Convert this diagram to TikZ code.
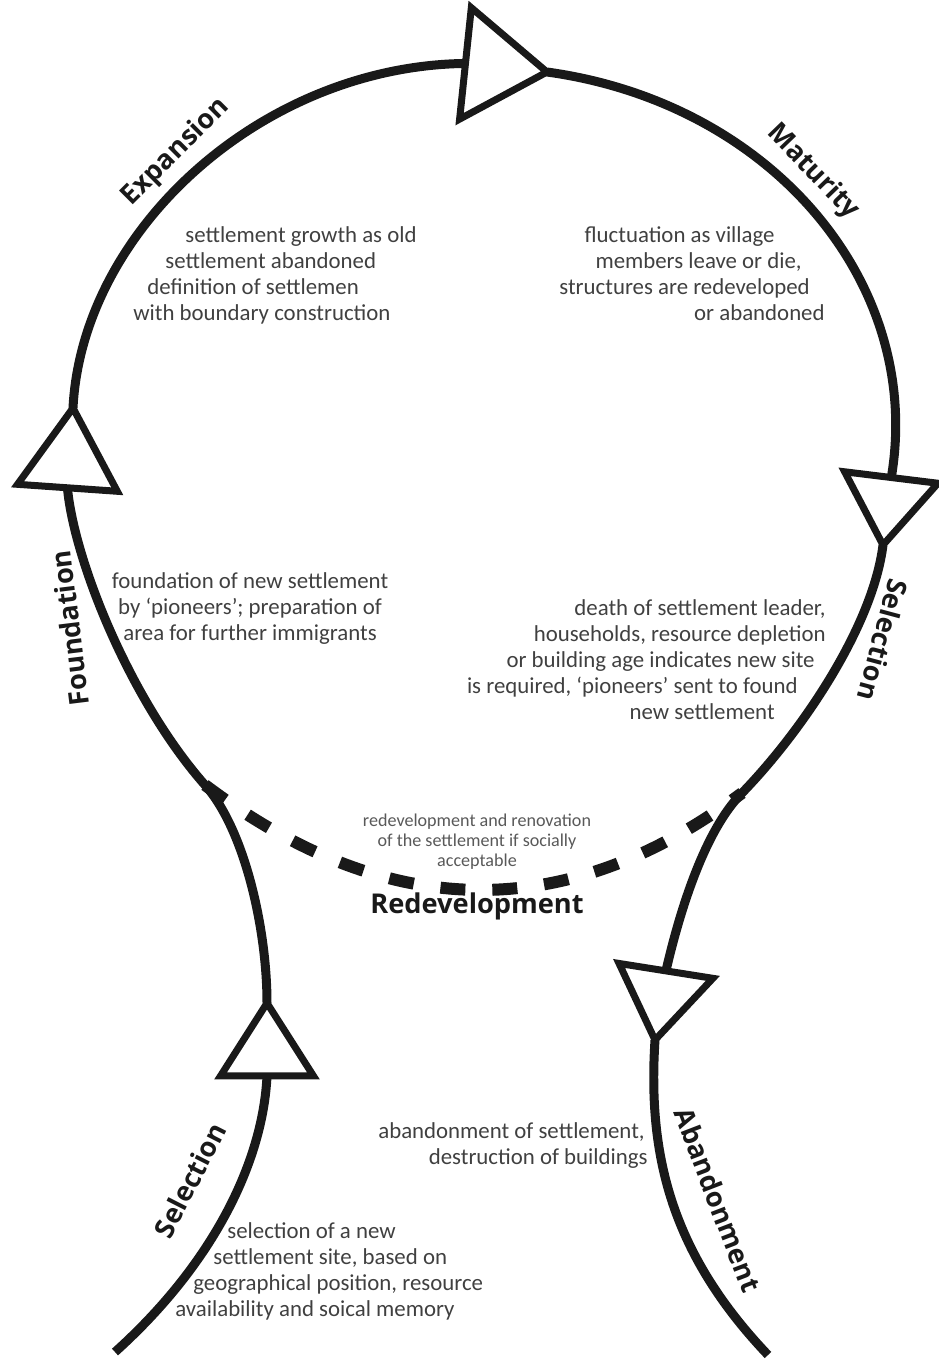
\documentclass[tikz,border=0pt]{standalone}
\usepackage{fontspec}
\setmainfont{Carlito}
\newfontfamily\labelfont{Open Sans}
\usetikzlibrary{shapes.geometric}

\begin{document}
\begin{tikzpicture}[x=0.02cm, y=-0.02cm,
      loopline/.style={line width=0.18cm, draw=black!90},
      tri/.style={isosceles triangle, isosceles triangle stretches, draw=black!90,
        fill=white, line width=0.14cm, inner sep=0pt, outer sep=0pt, anchor=apex},
      phase/.style={font=\labelfont\bfseries\fontsize{15.5}{18}\selectfont,
        text=black!90, inner sep=0pt},
      note/.style={font=\fontsize{13}{14.8}\selectfont, text=black!75, inner sep=0pt},
      redev/.style={line width=0.24cm, draw=black!90, dash pattern=on 0.5cm off 0.54cm}]
      \useasboundingbox (0,0) rectangle (938,1359);
      % arrowheads t_1 ... t_5
      \node[tri, minimum width=1.86cm, minimum height=1.46cm, rotate=90] (t_1) at (267,1003) {};
      \node[tri, minimum width=2cm, minimum height=1.6cm, rotate=86] (t_2) at (73,408) {};
      \node[tri, minimum width=2.24cm, minimum height=1.64cm, rotate=-6] (t_3) at (547,72) {};
      \node[tri, minimum width=1.88cm, minimum height=1.36cm, rotate=-97] (t_4) at (883,545) {};
      \node[tri, minimum width=1.9cm, minimum height=1.4cm, rotate=-99] (t_5) at (655,1040) {};
      \coordinate (lj) at (205,785);
      \coordinate (rj) at (742,793);
      \coordinate (s_in) at (115,1352);
      \coordinate (s_out) at (768,1355);
      % the cycle
      \draw[loopline] (s_in) .. controls (215,1262) and (263,1160) .. (t_1.lower side);
      \draw[loopline] (t_1.apex) .. controls (267,930) and (245,830) .. (lj)
            .. controls (130,700) and (74,560) .. (t_2.lower side);
      \draw[loopline] (t_2.apex) .. controls (82,230) and (262,66) .. (t_3.lower side);
      \draw[loopline] (t_3.apex) .. controls (772,103) and (924,284) .. (t_4.lower side);
      \draw[loopline] (t_4.apex) .. controls (873,625) and (804,729) .. (rj)
            .. controls (705,830) and (680,910) .. (t_5.lower side);
      \draw[loopline] (t_5.apex) .. controls (648,1150) and (668,1250) .. (s_out);
      % redevelopment shortcut
      \draw[redev] (lj) .. controls (384,920) and (563,927) .. (rj);
      % phase labels
      \node[phase, rotate=45] (expansion) at (176,152) {Expansion};
      \node[phase, rotate=-46] (maturity) at (813,172) {Maturity};
      \node[phase, rotate=97] (foundation) at (70,628) {Foundation};
      \node[phase, rotate=-105] (sel_r) at (883,640) {Selection};
      \node[phase] (redevelopment) at (477,906) {Redevelopment};
      \node[phase, rotate=-69] (abandonment) at (718,1200) {Abandonment};
      \node[phase, rotate=63] (sel_l) at (190,1180) {Selection};
      % descriptions
      \node[note, anchor=north west, align=left] (exp_txt) at (133,226)
            {\hspace*{1.04cm}settlement growth as old\\ \hspace*{0.64cm}settlement abandoned\\
             \hspace*{0.28cm}definition of settlemen\\ with boundary construction};
      \node[note, anchor=north east, align=right] (mat_txt) at (825,226)
            {fluctuation as village\rule{1cm}{0pt}\\ members leave or die,\rule{0.46cm}{0pt}\\
             structures are redeveloped\rule{0.3cm}{0pt}\\ or abandoned};
      \node[note, anchor=north, align=center] (fnd_txt) at (250,572)
            {foundation of new settlement\\ by ‘pioneers’; preparation of\\ area for further immigrants};
      \node[note, anchor=north east, align=right] (sel_txt) at (826,599)
            {death of settlement leader,\\ households, resource depletion\\
             or building age indicates new site\rule{0.22cm}{0pt}\\
             is required, ‘pioneers’ sent to found\rule{0.56cm}{0pt}\\ new settlement\rule{1.02cm}{0pt}};
      \node[note, font=\fontsize{10.3}{11.4}\selectfont, text=black!65, anchor=north, align=center]
            (red_txt) at (477,814) {redevelopment and renovation\\ of the settlement if socially\\ acceptable};
      \node[note, anchor=north east, align=right] (abd_txt) at (648,1122)
            {abandonment of settlement,\rule{0.06cm}{0pt}\\ destruction of buildings};
      \node[note, anchor=north west, align=left] (new_txt) at (175,1222)
            {\hspace*{1.04cm}selection of a new\\ \hspace*{0.76cm}settlement site, based on\\
             \hspace*{0.36cm}geographical position, resource\\ availability and soical memory};
\end{tikzpicture}
\end{document}
